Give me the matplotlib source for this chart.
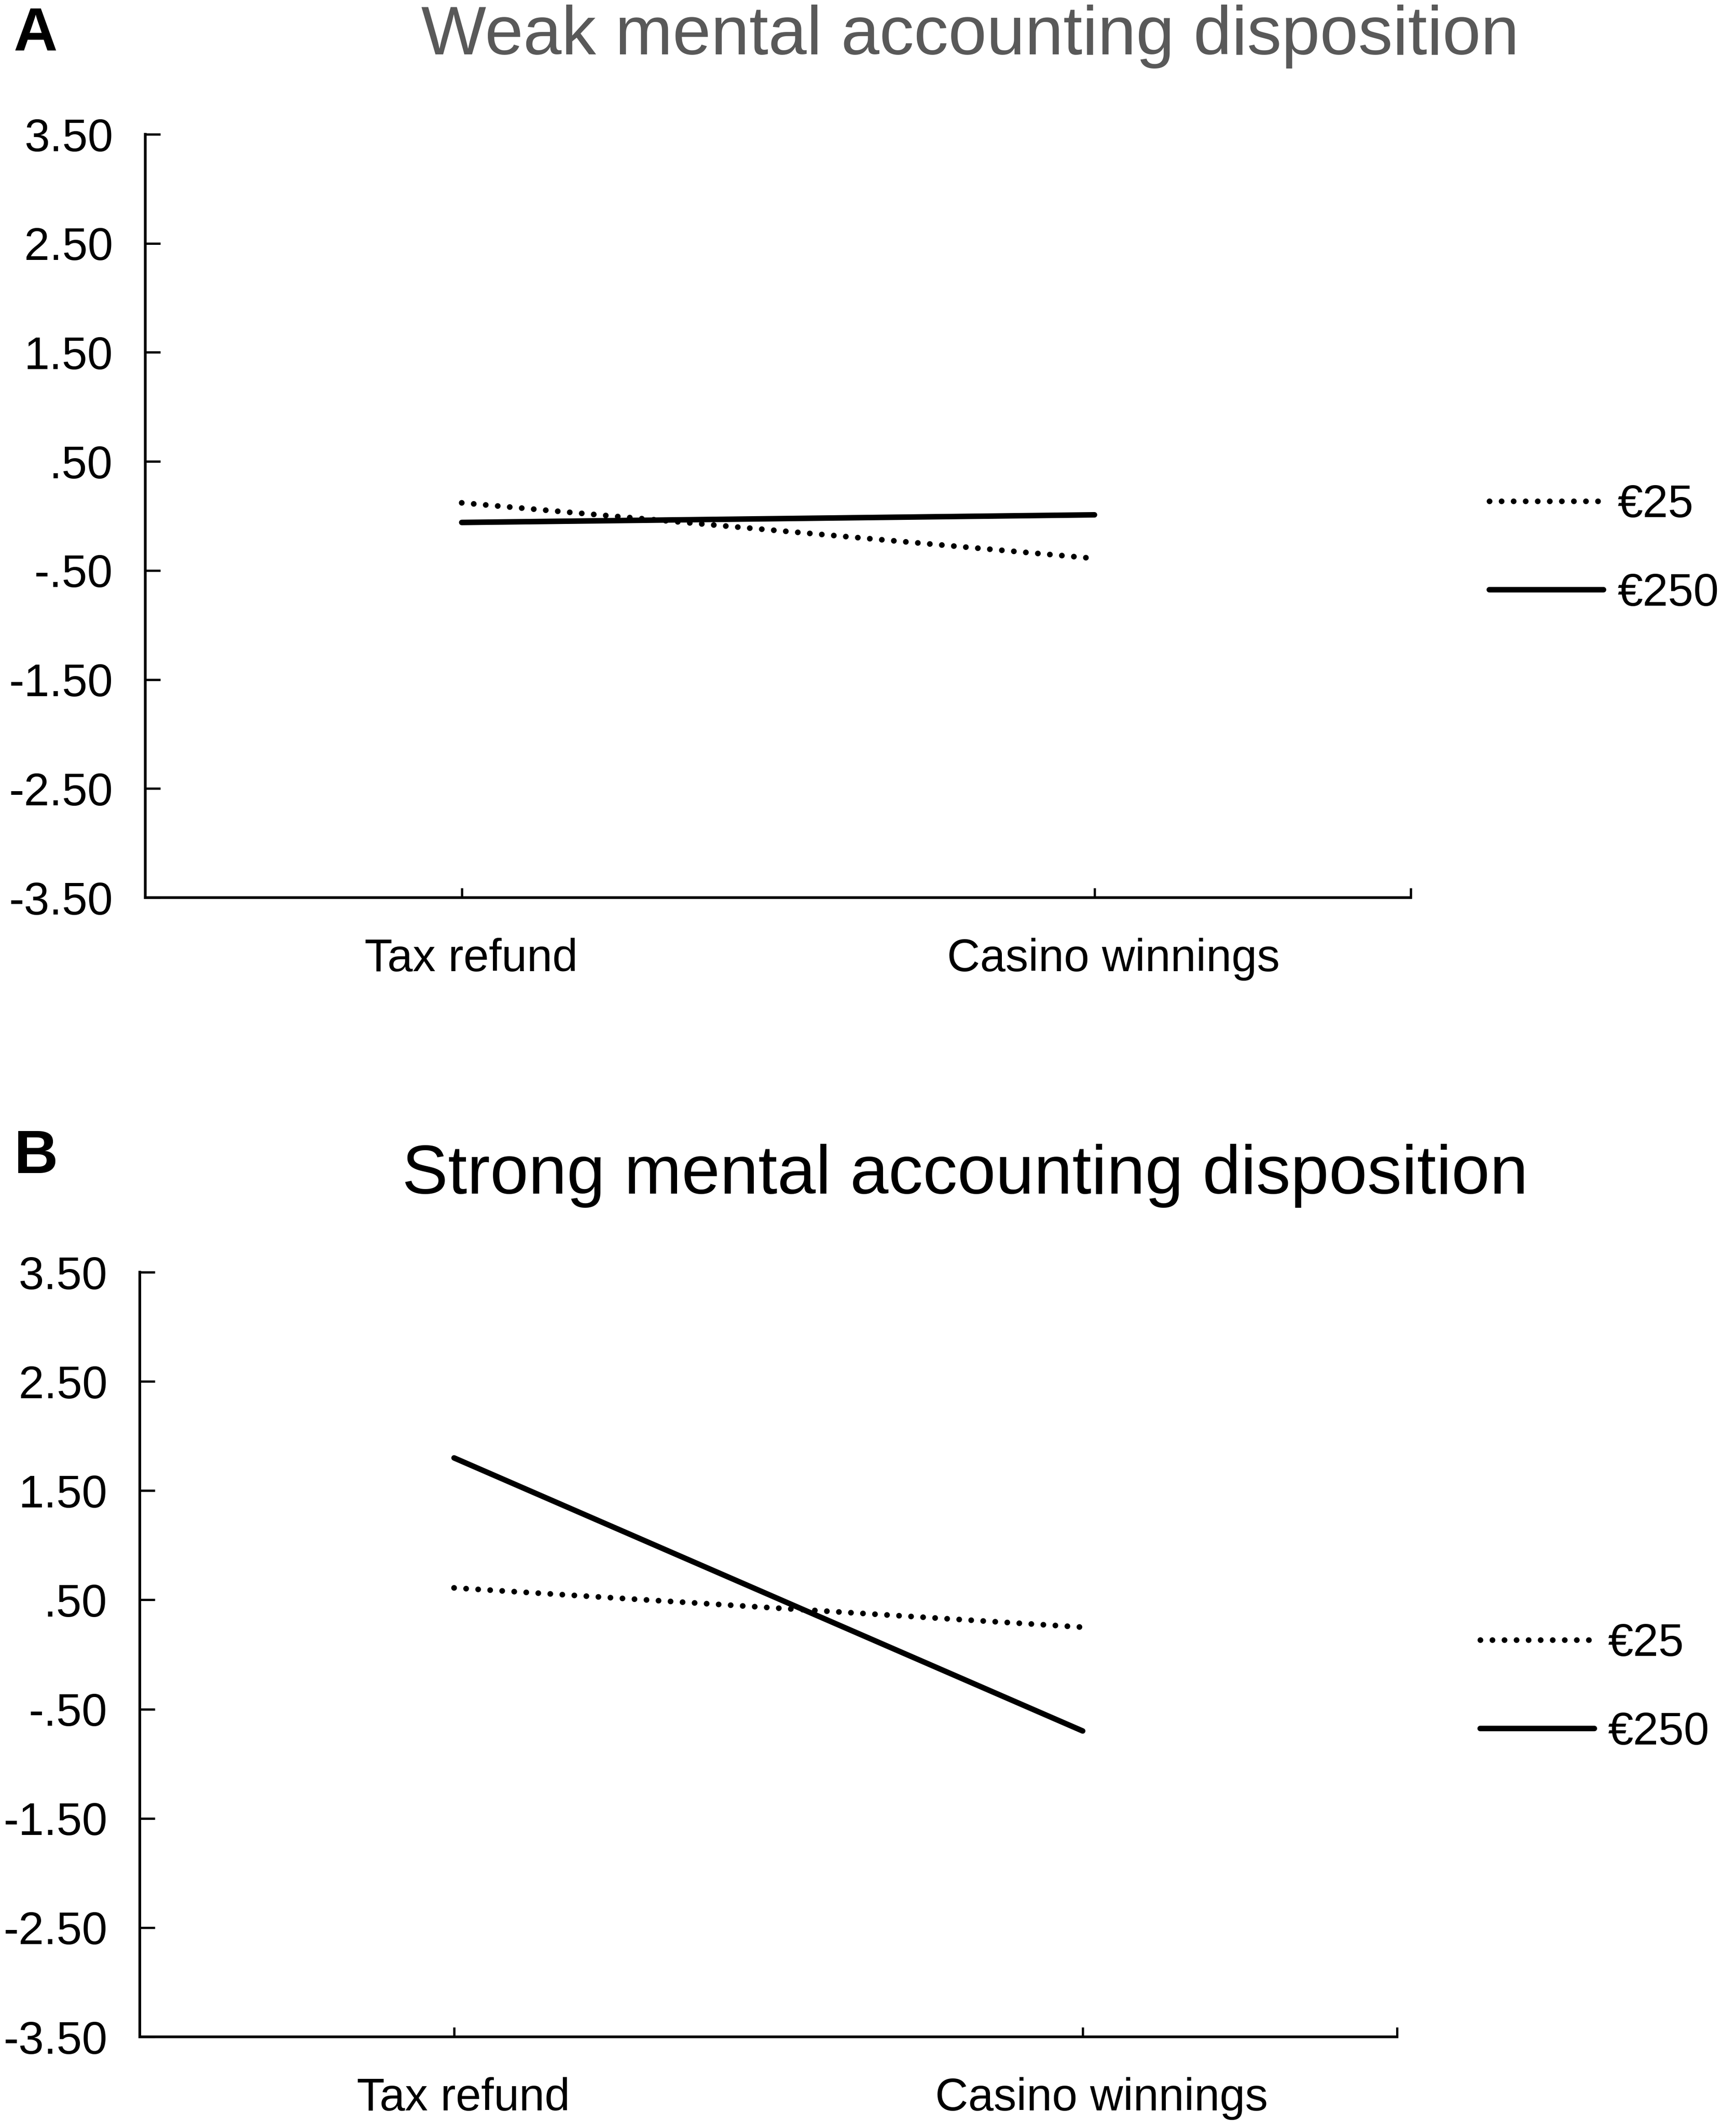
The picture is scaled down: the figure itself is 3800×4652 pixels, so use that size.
import matplotlib
matplotlib.use("Agg")
import matplotlib.pyplot as plt
import matplotlib.transforms as mtransforms

plt.rcParams['font.family'] = ['Liberation Sans', 'DejaVu Sans']

categories = ["Tax refund", "Casino winnings"]
series_names = ["€25", "€250"]

weak_25 = [0.12, -0.39]
weak_250 = [-0.06, 0.01]
strong_25 = [0.61, 0.25]
strong_250 = [1.80, -0.70]

y_ticks = [3.5, 2.5, 1.5, 0.5, -0.5, -1.5, -2.5, -3.5]


def fmt(v):
    s = "%.2f" % v
    return s.replace("0.", ".") if abs(v) < 1 else s


def draw_panel(fig, ax, v25, v250):
    x = list(range(len(categories)))
    ax.plot(x, v25, color="black", lw=3.0, linestyle=(0, (0.01, 2.1)),
            dash_capstyle="round", label=series_names[0])
    ax.plot(x, v250, color="black", lw=2.9, solid_capstyle="round",
            label=series_names[1])
    ax.set_xlim(-0.5, 1.5)
    ax.set_ylim(-3.5, 3.5)
    ax.set_yticks(y_ticks)
    ax.set_yticklabels([fmt(v) for v in y_ticks])
    ax.set_xticks(x)
    ax.set_xticklabels(categories)
    ax.set_xticks([1.5], minor=True)
    for s in ["top", "right"]:
        ax.spines[s].set_visible(False)
    for s in ["left", "bottom"]:
        ax.spines[s].set_linewidth(1.4)
    ax.tick_params(axis="y", direction="in", length=8, width=1.2, pad=17, labelsize=24)
    ax.tick_params(axis="x", which="both", direction="in", length=5, width=1.2, pad=21, labelsize=24)
    # labels sit a little right of their ticks in the original
    for lab, dx in zip(ax.get_xticklabels(), [5, 10]):
        off = mtransforms.ScaledTranslation(dx / 72, 0, fig.dpi_scale_trans)
        lab.set_transform(lab.get_transform() + off)


fig = plt.figure(figsize=(12.667, 15.507), dpi=300)

ax1 = fig.add_axes([0.0837, 0.5776, 0.729, 0.3592])
draw_panel(fig, ax1, weak_25, weak_250)
ax1.legend(loc="center left", bbox_to_anchor=(1.062, 0.456), frameon=False,
           fontsize=24, handlelength=2.5, handletextpad=0.3, labelspacing=1.0,
           borderpad=0, borderaxespad=0)

ax2 = fig.add_axes([0.0805, 0.0415, 0.7242, 0.3598])
draw_panel(fig, ax2, strong_25, strong_250)
ax2.legend(loc="center left", bbox_to_anchor=(1.066, 0.456), frameon=False,
           fontsize=24, handlelength=2.5, handletextpad=0.3, labelspacing=1.0,
           borderpad=0, borderaxespad=0)

fig.text(0.5587, 0.9744, "Weak mental accounting disposition", ha="center",
         va="baseline", fontsize=36.2, color="#595959")
fig.text(0.556, 0.4383, "Strong mental accounting disposition", ha="center",
         va="baseline", fontsize=36.2, color="black")
fig.text(0.0079, 0.976, "A", fontsize=32, fontweight="bold", va="baseline")
fig.text(0.0079, 0.448, "B", fontsize=32, fontweight="bold", va="baseline")

fig.savefig("out.png", dpi=300)
